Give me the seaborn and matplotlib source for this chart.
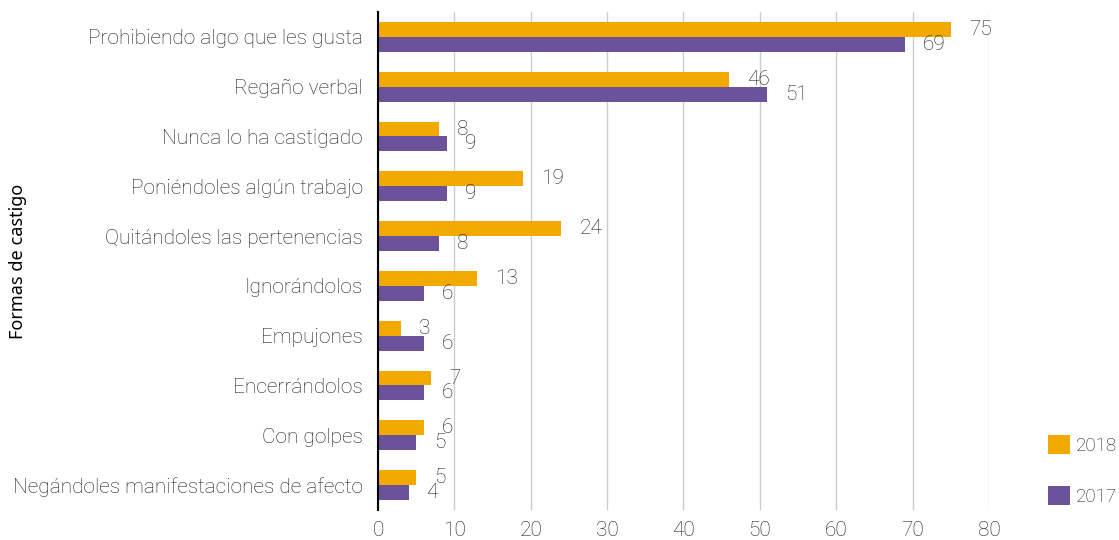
import matplotlib
matplotlib.use("Agg")
import matplotlib.pyplot as plt
from matplotlib.patches import Patch
import pandas as pd
import seaborn as sns

categories = [
    "Prohibiendo algo que les gusta",
    "Regaño verbal",
    "Nunca lo ha castigado",
    "Poniéndoles algún trabajo",
    "Quitándoles las pertenencias",
    "Ignorándolos",
    "Empujones",
    "Encerrándolos",
    "Con golpes",
    "Negándoles manifestaciones de afecto",
]
values_2018 = [75, 46, 8, 19, 24, 13, 3, 7, 6, 5]
values_2017 = [69, 51, 9, 9, 8, 6, 6, 6, 5, 4]
years = ["2018", "2017"]
x_ticks = [0, 10, 20, 30, 40, 50, 60, 70, 80]

colors = {"2018": "#F2AA00", "2017": "#6C519B"}
text_color = "#1e1e1e"

df = pd.DataFrame({
    "forma": categories * 2,
    "valor": values_2018 + values_2017,
    "anio": ["2018"] * len(categories) + ["2017"] * len(categories),
})

sns.set_theme(style="white")
plt.rcParams["font.family"] = ["Roboto", "DejaVu Sans"]
plt.rcParams["font.weight"] = "light"

fig = plt.figure(figsize=(11.19, 5.4), dpi=100)
ax = fig.add_axes([0.3378, 0.0556, 0.8838 - 0.3378, 0.9778 - 0.0556])

sns.barplot(data=df, x="valor", y="forma", hue="anio", hue_order=years,
            order=categories, palette=colors, orient="h", width=0.6,
            saturation=1, linewidth=0, ax=ax, legend=False)

for container in ax.containers:
    ax.bar_label(container, padding=13, fontsize=15, color=text_color,
                 fontweight="light")

ax.set_xlim(0, 80)
ax.set_xticks(x_ticks)
ax.xaxis.grid(True, color="#cccccc", linewidth=1)
ax.set_axisbelow(True)
for side in ["top", "right", "bottom"]:
    ax.spines[side].set_visible(False)
ax.spines["left"].set_color("black")
ax.spines["left"].set_linewidth(1.5)
ax.tick_params(axis="both", length=0, labelsize=15, labelcolor=text_color)
ax.tick_params(axis="y", pad=11)
ax.tick_params(axis="x", pad=8)
ax.set_xlabel("")
ax.set_ylabel("Formas de castigo", fontsize=13, color="black",
              family=["Noto Sans", "DejaVu Sans"], fontweight="normal")
ax.yaxis.set_label_coords(-0.574, 0.5)

handles = [Patch(facecolor=colors[y], edgecolor="none", label=y) for y in years]
fig.legend(handles=handles, loc="lower left", bbox_to_anchor=(0.9365, 0.063),
           frameon=False, fontsize=13.5, handlelength=1.17, handleheight=1.17,
           labelspacing=1.66, handletextpad=0.3, labelcolor=text_color,
           borderaxespad=0, borderpad=0)

fig.savefig("out.png", dpi=100)
